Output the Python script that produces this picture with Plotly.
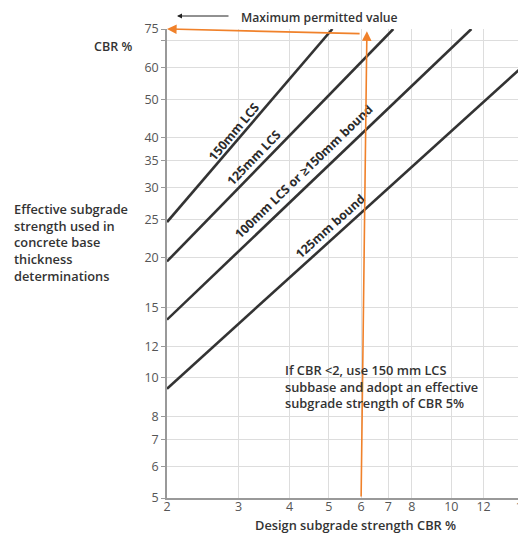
import numpy as np
import plotly.graph_objects as go

# ---- data ----
design_cbr_150lcs = [2.0, 5.1]
effective_150lcs = [24.6, 75.0]
design_cbr_125lcs = [2.0, 7.2]
effective_125lcs = [19.6, 75.0]
design_cbr_100lcs = [2.0, 11.2]
effective_100lcs = [14.0, 75.0]
design_cbr_125bound = [2.0, 15.0]
effective_125bound = [9.4, 60.5]

series_names = ["150mm LCS", "125mm LCS", "100mm LCS or ≥150mm bound", "125mm bound"]

# orange example construction (design CBR 6 -> max permitted 75)
example_up_x = [6.0, 6.2]
example_up_y = [5.0, 74.0]
example_left_x = [6.0, 2.0]
example_left_y = [73.0, 75.0]

x_ticks = [2, 3, 4, 5, 6, 7, 8, 10, 12, 15]
y_ticks = [5, 6, 7, 8, 10, 12, 15, 20, 25, 30, 35, 40, 50, 60, 70, 75]
y_tick_text = ["5", "6", "7", "8", "10", "12", "15", "20", "25", "30", "35", "40", "50", "60", "", "75"]

# label anchor points (design CBR, effective CBR) and angles
label_x = [2.92, 3.27, 4.34, 5.03]
label_y = [41.6, 35.8, 32.9, 24.0]
label_angle = [-50, -46, -44, -42]

LINE = "#333333"
ORANGE = "#F0812A"
FONT = "Open Sans"

W, H = 518, 525
L, T, R, B = 159, 21, 3, 35
PW, PH = W - L - R, H - T - B


def px(xp):  # page pixel x -> paper
    return (xp - 8 - L) / PW


def py(yp):  # page pixel y -> paper
    return (H - B - (yp - 8)) / PH


fig = go.Figure()
for xs, ys, nm in [
    (design_cbr_150lcs, effective_150lcs, series_names[0]),
    (design_cbr_125lcs, effective_125lcs, series_names[1]),
    (design_cbr_100lcs, effective_100lcs, series_names[2]),
    (design_cbr_125bound, effective_125bound, series_names[3]),
]:
    fig.add_trace(go.Scatter(x=xs, y=ys, mode="lines", name=nm,
                             line=dict(color=LINE, width=2.6), showlegend=False,
                             hoverinfo="skip"))

# line labels
for nm, lx, ly, ang in zip(series_names, label_x, label_y, label_angle):
    fig.add_annotation(x=np.log10(lx), y=np.log10(ly), xref="x", yref="y",
                       text=nm, showarrow=False, textangle=ang,
                       font=dict(family=FONT, size=12.4, color="#2b2b2b", weight=700))

# orange arrows
fig.add_annotation(x=np.log10(example_up_x[1]), y=np.log10(example_up_y[1]),
                   ax=np.log10(example_up_x[0]), ay=np.log10(example_up_y[0]),
                   xref="x", yref="y", axref="x", ayref="y", text="",
                   showarrow=True, arrowhead=2, arrowsize=1.2, arrowwidth=1.6,
                   arrowcolor=ORANGE)
fig.add_annotation(x=np.log10(example_left_x[1]), y=np.log10(example_left_y[1]),
                   ax=np.log10(example_left_x[0]), ay=np.log10(example_left_y[0]),
                   xref="x", yref="y", axref="x", ayref="y", text="",
                   showarrow=True, arrowhead=2, arrowsize=1.2, arrowwidth=1.6,
                   arrowcolor=ORANGE)

# "Maximum permitted value"
fig.add_annotation(x=px(319), y=py(17), xref="paper", yref="paper",
                   xanchor="center", yanchor="middle",
                   text="Maximum permitted value", showarrow=False,
                   font=dict(family=FONT, size=12.2, color="#333333", weight=600))
fig.add_annotation(x=px(177), y=py(16), xref="paper", yref="paper", text="",
                   showarrow=True, ax=53, ay=0, arrowhead=2, arrowsize=1,
                   arrowwidth=1, arrowcolor="#222222")

# axis side titles
fig.add_annotation(x=px(134), y=py(47), xref="paper", yref="paper",
                   text="CBR %", showarrow=False, xanchor="right", yanchor="middle",
                   font=dict(family=FONT, size=12.5, color="#333333", weight=600))
fig.add_annotation(x=px(12), y=py(243), xref="paper", yref="paper",
                   text="Effective subgrade<br>strength used in<br>concrete base<br>thickness<br>determinations",
                   showarrow=False, xanchor="left", yanchor="middle", align="left",
                   font=dict(family=FONT, size=12.8, color="#333333", weight=600))

# note
fig.add_annotation(x=px(283), y=py(386), xref="paper", yref="paper",
                   text="If CBR <2, use 150 mm LCS<br>subbase and adopt an effective<br>subgrade strength of CBR 5%",
                   showarrow=False, xanchor="left", yanchor="middle", align="left",
                   font=dict(family=FONT, size=12.8, color="#333333", weight=600))

# x-axis title placed as annotation
fig.add_annotation(x=px(355), y=py(525), xref="paper", yref="paper",
                   xanchor="center", yanchor="middle",
                   text="Design subgrade strength CBR %", showarrow=False,
                   font=dict(family=FONT, size=12.8, color="#333333", weight=600))

fig.update_layout(
    template="none",
    width=W, height=H,
    margin=dict(l=L, r=R, t=T, b=B),
    paper_bgcolor="white", plot_bgcolor="white",
    font=dict(family=FONT, color="#555555"),
    showlegend=False,
    xaxis=dict(type="log", range=[np.log10(2), np.log10(15)],
               tickvals=x_ticks, ticktext=[str(v) for v in x_ticks],
               showgrid=True, gridcolor="#dddddd", gridwidth=1,
               showline=True, linecolor="#999999", linewidth=1.5,
               ticks="", automargin=False, zeroline=False,
               ticklabelstandoff=-4, ticklabeloverflow="allow",
               tickfont=dict(family=FONT, size=12.5, color="#555555")),
    yaxis=dict(type="log", range=[np.log10(5), np.log10(75)],
               tickvals=y_ticks, ticktext=y_tick_text,
               showgrid=True, gridcolor="#dddddd", gridwidth=1,
               showline=True, linecolor="#999999", linewidth=1.5,
               ticks="outside", ticklen=4, tickcolor="#999999",
               automargin=False, zeroline=False,
               tickfont=dict(family=FONT, size=12.5, color="#555555")),
)

fig.write_html("out.html")
